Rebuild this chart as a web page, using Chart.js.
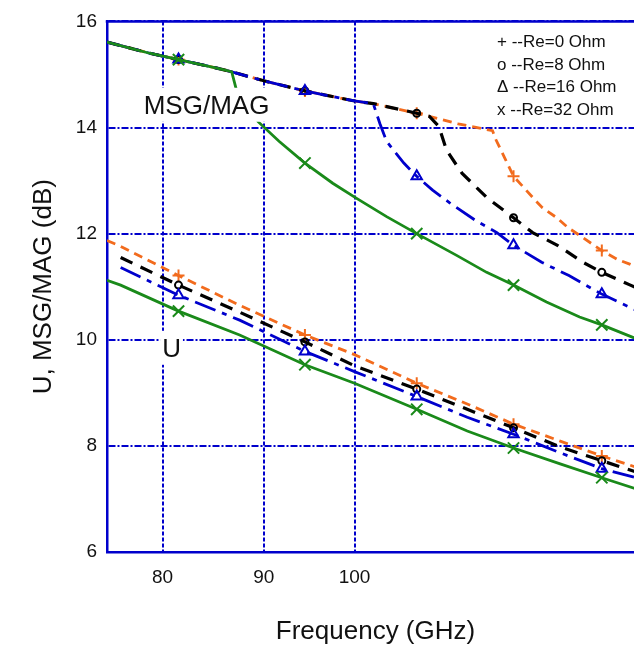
<!DOCTYPE html>
<html>
<head>
<meta charset="utf-8">
<script src="https://cdn.jsdelivr.net/npm/chart.js@4.4.1/dist/chart.umd.min.js"></script>
<style>
    html, body { margin: 0; padding: 0; background: #fff; overflow: hidden; }
    #grafico-wrap { width: 660px; height: 652px; }
</style>
</head>
<body>
<div id="grafico-wrap"><canvas id="grafico" width="660" height="652"></canvas></div>
<script>
// Ticks
const freqTicks = [80, 90, 100];
const gainTicks = [6, 8, 10, 12, 14, 16];
// frequencies where the symbols are drawn
const markerFreqs = [81.5, 94.4, 107.5, 120.3, 133.3];

// U curves (dB), shared frequency grid (GHz)
const uFreqs = [75, 76.2, 81.5, 87.5, 94.4, 100, 107.5, 114, 120.3, 127, 133.3, 140];
const uRe0  = [11.87, 11.76, 11.21, 10.65, 10.09, 9.72, 9.18, 8.79, 8.41, 8.09, 7.81, 7.55];
const uRe8  = [null, 11.55, 11.03, 10.52, 9.96, 9.51, 9.07, 8.69, 8.34, 7.98, 7.72, 7.46];
const uRe16 = [null, 11.36, 10.84, 10.37, 9.78, 9.40, 8.93, 8.54, 8.22, 7.87, 7.57, 7.36];
const uRe32 = [11.12, 11.03, 10.54, 10.09, 9.53, 9.18, 8.69, 8.28, 7.96, 7.66, 7.40, 7.14];

// MSG/MAG curves (dB)
const msgFreqRe0 = [75, 78.8, 81.5, 85.2, 86.7, 90, 94.4, 100, 102.2, 107.5, 112.8, 117.4, 117.9, 119.1, 120.3, 121.4, 123.3, 124.4, 126.5, 128.2, 130.0, 133.3, 135.8, 137.8, 140];
const msgRe0 = [15.61, 15.40, 15.28, 15.12, 15.05, 14.88, 14.69, 14.50, 14.45, 14.27, 14.07, 13.94, 13.76, 13.42, 13.08, 12.92, 12.64, 12.49, 12.30, 12.11, 11.96, 11.68, 11.51, 11.42, 11.30];

const msgFreqRe8 = [75, 78.8, 81.5, 85.2, 86.7, 90, 94.4, 100, 102.2, 107.5, 109.1, 110.3, 111.3, 113.3, 116.7, 120.3, 123.0, 126.6, 130.4, 133.3, 137.8, 140];
const msgRe8 = [15.61, 15.40, 15.28, 15.12, 15.05, 14.88, 14.69, 14.50, 14.45, 14.27, 14.21, 14.02, 13.57, 13.14, 12.67, 12.30, 12.02, 11.78, 11.46, 11.27, 11.03, 10.92];

const msgFreqRe16 = [75, 78.8, 81.5, 85.2, 86.7, 90, 94.4, 100, 102.2, 103.0, 103.8, 105.9, 107.5, 109.5, 111.7, 115.2, 118.0, 120.3, 124.3, 128.3, 131.4, 133.3, 138.3, 140];
const msgRe16 = [15.61, 15.40, 15.28, 15.12, 15.05, 14.88, 14.69, 14.50, 14.45, 14.07, 13.74, 13.33, 13.08, 12.82, 12.58, 12.24, 12.02, 11.78, 11.46, 11.21, 10.99, 10.86, 10.58, 10.50];

const msgFreqRe32 = [75, 78.8, 81.5, 85.2, 86.3, 86.7, 87.2, 89.4, 91.6, 94.4, 97.5, 100.2, 103.8, 107.5, 112.6, 116.6, 120.3, 125.0, 129.9, 133.3, 138.3, 140];
const msgRe32 = [15.61, 15.40, 15.28, 15.12, 15.07, 15.05, 14.69, 14.11, 13.74, 13.33, 12.95, 12.67, 12.32, 12.00, 11.59, 11.27, 11.03, 10.71, 10.43, 10.28, 10.04, 9.97];

const legenda = ['+ --Re=0 Ohm', 'o --Re=8 Ohm', '\u0394 --Re=16 Ohm', 'x --Re=32 Ohm'];

const AXIS_COLOR = '#0000cc';
const FONTE = '"Liberation Sans", Arial, sans-serif';

function pontos(freqs, valores) {
    return freqs.map((f, i) => ({ x: f, y: valores[i] })).filter(p => p.y !== null);
}

// green first so it is drawn on top
const series = [
    { msg: pontos(msgFreqRe32, msgRe32), u: pontos(uFreqs, uRe32), cor: '#1a8a1a', dash: [], estilo: 'crossRot', raio: 8, largura: 2.8 },
    { msg: pontos(msgFreqRe16, msgRe16), u: pontos(uFreqs, uRe16), cor: '#0000cc', dash: [22, 7, 5, 7], estilo: 'triangle', raio: 6, largura: 2.8 },
    { msg: pontos(msgFreqRe8, msgRe8), u: pontos(uFreqs, uRe8), cor: '#000000', dash: [13, 9], estilo: 'circle', raio: 3.5, largura: 3.2 },
    { msg: pontos(msgFreqRe0, msgRe0), u: pontos(uFreqs, uRe0), cor: '#f26b1d', dash: [9, 6], estilo: 'cross', raio: 6, largura: 2.8 }
];

const datasets = [];
series.forEach(s => {
    [s.msg, s.u].forEach(dados => {
        datasets.push({
            data: dados,
            showLine: true,
            borderColor: s.cor,
            borderWidth: s.largura,
            borderDash: s.dash,
            tension: 0,
            pointStyle: s.estilo,
            pointRadius: ctx => (ctx.raw && markerFreqs.includes(ctx.raw.x)) ? s.raio : 0,
            pointBorderColor: s.cor,
            pointBackgroundColor: 'rgba(0,0,0,0)',
            pointBorderWidth: 2,
            pointHoverRadius: 0
        });
    });
});

// frame top line, labels with white boxes and the text legend
const anotacoes = {
    id: 'anotacoes',
    afterDatasetsDraw(chart) {
        const { ctx, chartArea, scales } = chart;
        ctx.save();
        ctx.strokeStyle = AXIS_COLOR;
        ctx.lineWidth = 2.5;
        ctx.setLineDash([]);
        ctx.beginPath();
        ctx.moveTo(chartArea.left - 1.25, chartArea.top);
        ctx.lineTo(chartArea.right + 20, chartArea.top);
        ctx.stroke();

        ctx.font = '26px ' + FONTE;
        ctx.textAlign = 'center';
        ctx.textBaseline = 'middle';
        [['MSG/MAG', 84.2, 14.41, 5], ['U', 80.84, 9.83, 2]].forEach(([texto, f, g, pad]) => {
            const px = scales.x.getPixelForValue(f);
            const py = scales.y.getPixelForValue(g);
            const w = ctx.measureText(texto).width + 2 * pad;
            ctx.fillStyle = '#fff';
            ctx.fillRect(px - w / 2, py - 18, w, 34);
            ctx.fillStyle = '#111';
            ctx.fillText(texto, px, py + 1);
        });

        ctx.font = '17px ' + FONTE;
        ctx.textAlign = 'left';
        ctx.fillStyle = '#111';
        legenda.forEach((linha, i) => {
            ctx.fillText(linha, chartArea.right - 147, chartArea.top + 21 + i * 22.7);
        });
        ctx.restore();
    }
};

new Chart(document.getElementById('grafico'), {
    type: 'scatter',
    data: { datasets },
    plugins: [anotacoes],
    options: {
        responsive: false,
        animation: false,
        devicePixelRatio: 1,
        events: [],
        layout: { padding: { left: 0, top: 17, right: 16, bottom: 0 } },
        plugins: { legend: { display: false }, tooltip: { enabled: false } },
        scales: {
            x: {
                type: 'logarithmic',
                min: 75,
                max: 140,
                afterBuildTicks: axis => { axis.ticks = freqTicks.map(v => ({ value: v })); },
                afterFit: scale => { scale.height = 100; },
                ticks: {
                    callback: v => String(v),
                    color: '#111',
                    font: { family: FONTE, size: 19 },
                    padding: 14,
                    maxRotation: 0,
                    autoSkip: false
                },
                grid: { color: AXIS_COLOR, lineWidth: 2, drawTicks: false },
                border: { color: AXIS_COLOR, width: 2.5, dash: [4, 2] },
                title: {
                    display: true,
                    text: 'Frequency (GHz)',
                    color: '#111',
                    font: { family: FONTE, size: 26, weight: 'normal' },
                    padding: { top: 0, bottom: 5 }
                }
            },
            y: {
                min: 6,
                max: 16,
                afterBuildTicks: axis => { axis.ticks = gainTicks.map(v => ({ value: v })); },
                afterFit: scale => { scale.width = 107; },
                ticks: {
                    color: '#111',
                    font: { family: FONTE, size: 19 },
                    padding: 10
                },
                grid: { color: AXIS_COLOR, lineWidth: 2, drawTicks: false },
                border: { color: AXIS_COLOR, width: 2.5, dash: [7, 2, 2, 2] },
                title: {
                    display: true,
                    text: 'U, MSG/MAG (dB)',
                    color: '#111',
                    font: { family: FONTE, size: 26, weight: 'normal' },
                    padding: { top: 28, bottom: 0 }
                }
            }
        }
    }
});
</script>
</body>
</html>
